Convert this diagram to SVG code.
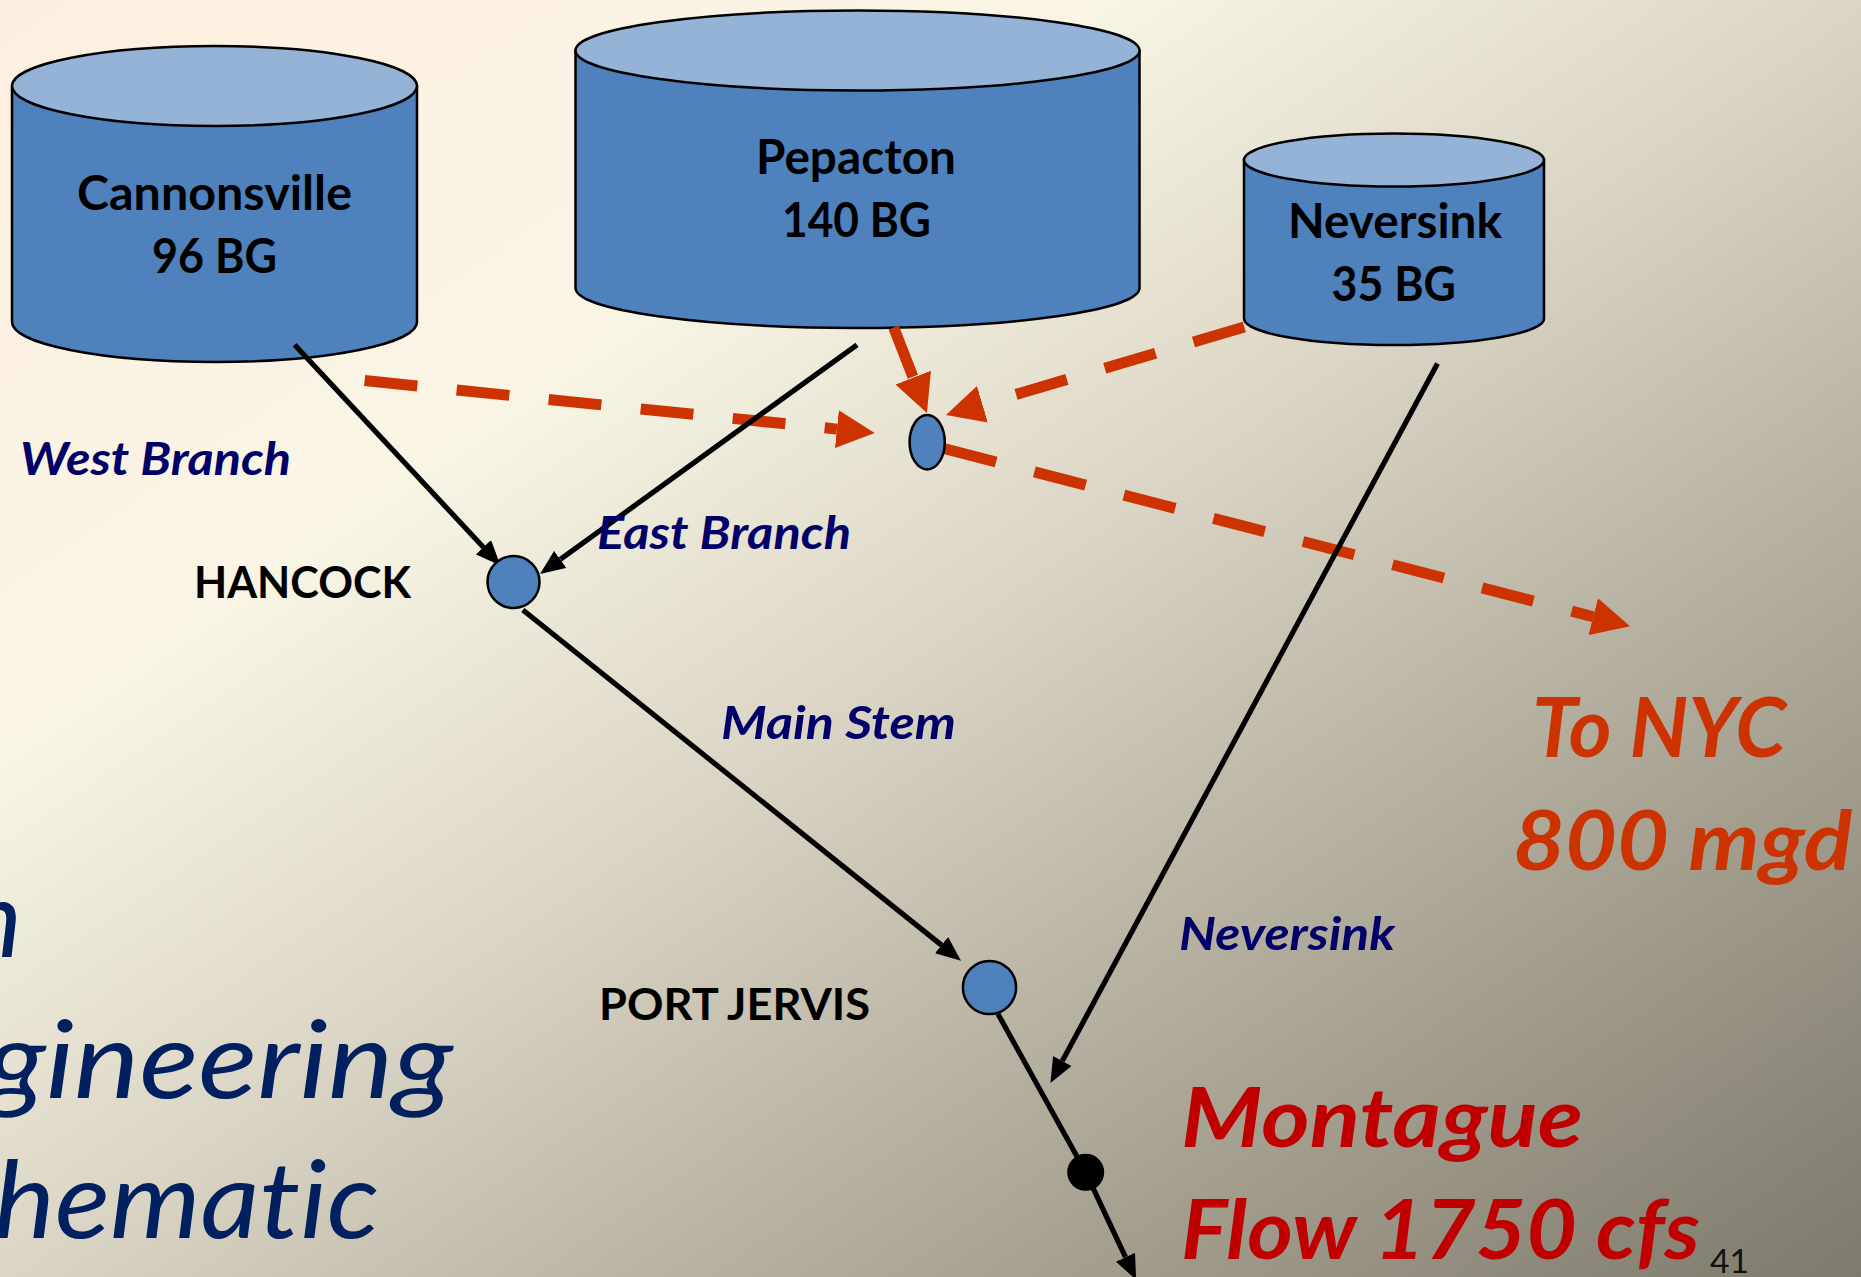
<svg xmlns="http://www.w3.org/2000/svg" width="1861" height="1277" viewBox="0 0 1861 1277">
<defs>
<linearGradient id="bg" x1="0" y1="0" x2="1" y2="1">
<stop offset="0" stop-color="#FDEFE0"/>
<stop offset="0.3" stop-color="#F9F5E5"/>
<stop offset="0.5" stop-color="#DAD5C5"/>
<stop offset="0.67" stop-color="#B9B4A3"/>
<stop offset="0.8" stop-color="#A19C8C"/>
<stop offset="1" stop-color="#7E7A6C"/>
</linearGradient>
<marker id="ab" markerUnits="userSpaceOnUse" viewBox="0 0 25 21" refX="0" refY="10.5" markerWidth="25" markerHeight="21" orient="auto">
<path d="M0,0 L25,10.5 L0,21 Z" fill="#000"/>
</marker>
<marker id="ar" markerUnits="userSpaceOnUse" viewBox="0 0 38 38" refX="0" refY="19" markerWidth="38" markerHeight="38" orient="auto">
<path d="M0,0 L38,19 L0,38 Z" fill="#CC3300"/>
</marker>
</defs>
<style>
text{font-variant-ligatures:none}
.cyl-body{fill:#4F81BD;stroke:#000;stroke-width:2.5}
.cyl-top{fill:#95B3D7;stroke:#000;stroke-width:2.5}
.junc{fill:#4F81BD;stroke:#000;stroke-width:2.5}
.gauge{fill:#000;stroke:#000;stroke-width:2}
.river{fill:none;stroke:#000;stroke-width:5.2}
.supply{fill:none;stroke:#CC3300;stroke-width:11;stroke-dasharray:53 39.5}
.cname{font-family:Lato,"Open Sans",sans-serif;font-weight:700;font-size:47px;fill:#000}
.place{font-family:Lato,"Open Sans",sans-serif;font-weight:700;font-size:43px;fill:#000}
.rlabel{font-family:Lato,"Open Sans",sans-serif;font-weight:700;font-style:italic;font-size:45px;fill:#000068}
.nyc{font-family:Lato,"Open Sans",sans-serif;font-weight:700;font-style:italic;font-size:83px;fill:#CC3300}
.mont{font-family:Lato,"Open Sans",sans-serif;font-weight:700;font-style:italic;font-size:82px;fill:#C00000}
.title{font-family:Lato,"Open Sans",sans-serif;font-style:italic;font-size:107px;fill:#002060}
.pnum{font-family:Lato,"Open Sans",sans-serif;font-size:33px;fill:#111}
</style>
<rect x="0" y="0" width="1861" height="1277" fill="url(#bg)"/>

<g id="title-text">
<text class="title" x="22" y="956.7" text-anchor="end">n</text>
<text class="title" x="-14" y="1097.7" textLength="467" lengthAdjust="spacingAndGlyphs">gineering</text>
<text class="title" x="-6" y="1238.3" textLength="385" lengthAdjust="spacingAndGlyphs">hematic</text>
</g>

<g id="cannonsville">
<path class="cyl-body" d="M12,86 L12,322 A202.5,40 0 0 0 417,322 L417,86 Z"/>
<ellipse class="cyl-top" cx="214.5" cy="86" rx="202.5" ry="40"/>
<text class="cname" x="77" y="209.6" textLength="275" lengthAdjust="spacingAndGlyphs">Cannonsville</text>
<text class="cname" x="152" y="272.8" textLength="125" lengthAdjust="spacingAndGlyphs">96 BG</text>
</g>
<g id="pepacton">
<path class="cyl-body" d="M575.5,50.5 L575.5,288 A282,40 0 0 0 1139.5,288 L1139.5,50.5 Z"/>
<ellipse class="cyl-top" cx="857.5" cy="50.5" rx="282" ry="40"/>
<text class="cname" x="756" y="174" textLength="200" lengthAdjust="spacingAndGlyphs">Pepacton</text>
<text class="cname" x="782" y="237" textLength="149" lengthAdjust="spacingAndGlyphs">140 BG</text>
</g>
<g id="neversink">
<path class="cyl-body" d="M1244,160 L1244,318.5 A150,26.5 0 0 0 1544,318.5 L1544,160 Z"/>
<ellipse class="cyl-top" cx="1394" cy="160" rx="150" ry="26.5"/>
<text class="cname" x="1288" y="238" textLength="214" lengthAdjust="spacingAndGlyphs">Neversink</text>
<text class="cname" x="1331.5" y="301" textLength="124.5" lengthAdjust="spacingAndGlyphs">35 BG</text>
</g>

<g id="connectors">
<path class="supply" d="M364.6,380.5 L836.9,429.1" marker-end="url(#ar)"/>
<path class="supply" d="M893.7,327.4 L913.2,377.6" marker-end="url(#ar)"/>
<path class="supply" d="M1244.3,327 L982.4,404.3" marker-end="url(#ar)"/>
<path class="supply" d="M944.8,448.7 L1593.2,616.7" marker-end="url(#ar)"/>
<path class="river" d="M294.6,344.8 L483.4,547.2" marker-end="url(#ab)"/>
<path class="river" d="M857,344.8 L560.3,559.4" marker-end="url(#ab)"/>
<path class="river" d="M522.9,610 L941.5,945.1" marker-end="url(#ab)"/>
<path class="river" d="M1437.5,363.5 L1062.3,1061" marker-end="url(#ab)"/>
<path class="river" d="M998,1014 L1085.7,1172.3"/>
<path class="river" d="M1085.7,1172.3 L1125.5,1257.2" marker-end="url(#ab)"/>
</g>

<g id="hancock">
<circle class="junc" cx="513.5" cy="582" r="26"/>
<text class="place" x="194" y="597.5" textLength="217" lengthAdjust="spacingAndGlyphs">HANCOCK</text>
</g>
<g id="diversion">
<ellipse class="junc" cx="927.2" cy="442.2" rx="17.6" ry="27.2"/>
</g>
<g id="port-jervis">
<circle class="junc" cx="989.5" cy="987.5" r="26.6"/>
<text class="place" x="599" y="1020" textLength="271" lengthAdjust="spacingAndGlyphs">PORT JERVIS</text>
</g>
<g id="montague">
<circle class="gauge" cx="1085.7" cy="1172.3" r="17.5"/>
<text class="mont" x="1181" y="1147" textLength="402" lengthAdjust="spacingAndGlyphs">Montague</text>
<text class="mont" x="1181" y="1259" textLength="519" lengthAdjust="spacingAndGlyphs">Flow 1750 cfs</text>
</g>

<g id="labels">
<text class="rlabel" x="20" y="474.5" textLength="271" lengthAdjust="spacingAndGlyphs">West Branch</text>
<text class="rlabel" x="597" y="548.5" textLength="254" lengthAdjust="spacingAndGlyphs">East Branch</text>
<text class="rlabel" x="721" y="738.5" textLength="235" lengthAdjust="spacingAndGlyphs">Main Stem</text>
<text class="rlabel" x="1179" y="950" textLength="216" lengthAdjust="spacingAndGlyphs">Neversink</text>
</g>
<g id="to-nyc">
<text class="nyc" x="1532" y="757" textLength="254" lengthAdjust="spacingAndGlyphs">To NYC</text>
<text class="nyc" x="1513" y="870" textLength="339" lengthAdjust="spacingAndGlyphs">800 mgd</text>
</g>
<text class="pnum" x="1710" y="1272.7" textLength="39" lengthAdjust="spacingAndGlyphs">41</text>
</svg>
